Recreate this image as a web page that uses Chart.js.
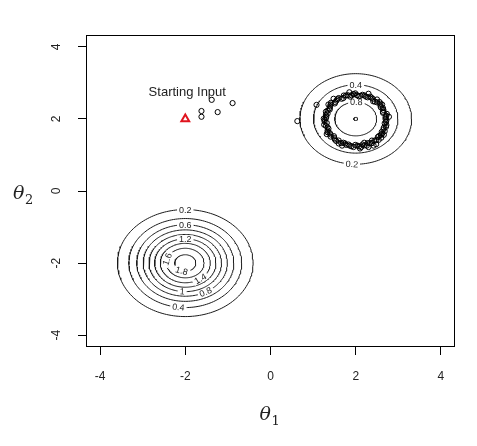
<!DOCTYPE html>
<html>
<head>
<meta charset="utf-8">
<script src="https://cdn.jsdelivr.net/npm/chart.js@4.4.0/dist/chart.umd.min.js"></script>
<style>
    html, body { margin: 0; padding: 0; background: #fff; }
    #wrap { width: 477px; height: 446px; }
</style>
</head>
<body>
<div id="wrap"><canvas id="plot"></canvas></div>
<script>
// Tick values (both axes)
var tickValues = [-4, -2, 0, 2, 4];

// The two bumps of the density: centre, peak, spread
var bumpX = [-2, 2];
var bumpY = [-2, 2];
var bumpPeak = [1.9, 1.002];
var bumpSdX = [0.75, 0.73];
var bumpSdY = [0.70, 0.70];

// Contour levels drawn for each bump
var levelsLow = [0.2, 0.4, 0.6, 0.8, 1, 1.2, 1.4, 1.6, 1.8];
var levelsHigh = [0.2, 0.4, 0.6, 0.8, 1];

// Contour labels: which bump, which level, where on the ring (degrees)
var labelBump = [0, 0, 0, 0, 0, 0, 0, 0, 0, 1, 1, 1];
var labelLevel = [0.2, 0.6, 1.2, 1.6, 1.8, 1.4, 1, 0.8, 0.4, 0.4, 0.8, 0.2];
var labelAngle = [90, 90, 90, 165, 250, 307, 265, 299, 263, 90, 88, 266];

// Sampled points
var sampleX = [-1.62, -1.62, -1.24, -1.38, -0.89, 0.63, 1.08,
    2.72, 2.70, 2.73, 2.64, 2.64, 2.58, 2.56, 2.45, 2.40, 2.34, 2.24, 2.16, 2.07,
    1.99, 1.90, 1.81, 1.72, 1.67, 1.57, 1.52, 1.42, 1.40, 1.39, 1.30, 1.30, 1.30,
    1.27, 1.26, 1.34, 1.34, 1.39, 1.41, 1.50, 1.54, 1.60, 1.71, 1.78, 1.86, 1.95,
    2.04, 2.13, 2.21, 2.28, 2.38, 2.44, 2.54, 2.55, 2.62, 2.68, 2.66, 2.72, 2.71,
    2.30, 2.48, 2.60, 2.10, 2.66, 2.20, 2.42, 1.68, 1.32, 2.50, 2.30, 1.85, 1.48,
    1.25, 2.78, 1.95, 2.62, 1.36,
    2.70, 2.72, 2.64, 2.65, 2.59, 2.58, 2.50, 2.41, 2.37, 2.28, 2.21, 2.11, 2.03,
    1.95, 1.87, 1.77, 1.71, 1.60, 1.55, 1.51, 1.41, 1.39, 1.34, 1.34, 1.31, 1.27,
    1.32, 1.30, 1.36, 1.34, 1.41, 1.49, 1.51, 1.60, 1.66, 1.75, 1.83, 1.90, 1.99,
    2.08, 2.16, 2.26, 2.33, 2.38, 2.48, 2.52, 2.59, 2.61, 2.65, 2.71, 2.68];
var sampleY = [2.22, 2.06, 2.19, 2.53, 2.44, 1.94, 2.39,
    1.96, 2.05, 2.14, 2.20, 2.30, 2.37, 2.47, 2.48, 2.56, 2.62, 2.62, 2.67, 2.63,
    2.71, 2.66, 2.66, 2.65, 2.56, 2.55, 2.47, 2.45, 2.35, 2.26, 2.20, 2.11, 2.02,
    1.93, 1.84, 1.77, 1.68, 1.61, 1.51, 1.47, 1.39, 1.32, 1.34, 1.28, 1.26, 1.22,
    1.26, 1.22, 1.27, 1.33, 1.33, 1.40, 1.42, 1.53, 1.59, 1.66, 1.76, 1.83, 1.92,
    1.22, 1.30, 1.48, 1.18, 1.56, 1.34, 1.26, 1.26, 1.58, 2.54, 2.70, 2.74, 2.56,
    2.01, 2.06, 2.68, 2.40, 2.40,
    2.00, 2.09, 2.17, 2.25, 2.32, 2.42, 2.46, 2.49, 2.59, 2.60, 2.65, 2.64, 2.66,
    2.69, 2.62, 2.65, 2.58, 2.58, 2.51, 2.43, 2.40, 2.30, 2.23, 2.15, 2.06, 1.98,
    1.89, 1.81, 1.73, 1.63, 1.57, 1.52, 1.43, 1.40, 1.33, 1.32, 1.29, 1.24, 1.28,
    1.24, 1.29, 1.26, 1.33, 1.40, 1.41, 1.50, 1.56, 1.64, 1.71, 1.78, 1.88];

// Starting input
var startX = [-2];
var startY = [2];
var startText = "Starting Input";


// Ring of a bump at a level (the bumps are far apart, so each ring is an ellipse)
function ringRadius(b, level) {
    var k = Math.sqrt(2 * Math.log(bumpPeak[b] / level));
    return { rx: bumpSdX[b] * k, ry: bumpSdY[b] * k };
}

function ringPoints(b, level) {
    var r = ringRadius(b, level);
    var pts = [];
    for (var a = 0; a <= 360; a += 2) {
        var t = a * Math.PI / 180;
        pts.push({ x: bumpX[b] + r.rx * Math.cos(t), y: bumpY[b] + r.ry * Math.sin(t) });
    }
    return pts;
}

var datasets = [];

datasets.push({
    label: "start",
    data: startX.map(function (v, i) { return { x: v, y: startY[i] }; }),
    pointStyle: "triangle",
    pointRadius: 4.5,
    borderWidth: 2,
    borderColor: "#e0141e",
    backgroundColor: "rgba(0,0,0,0)"
});

datasets.push({
    label: "samples",
    data: sampleX.map(function (v, i) { return { x: v, y: sampleY[i] }; }),
    pointStyle: "circle",
    pointRadius: 2.6,
    borderWidth: 1,
    borderColor: "#000",
    backgroundColor: "rgba(0,0,0,0)"
});

[levelsLow, levelsHigh].forEach(function (levels, b) {
    levels.forEach(function (level) {
        datasets.push({
            label: "c" + b + "_" + level,
            data: ringPoints(b, level),
            showLine: true,
            pointRadius: 0,
            borderWidth: 1,
            borderColor: "#1a1a1a",
            backgroundColor: "rgba(0,0,0,0)"
        });
    });
});


// Box, contour labels, tick labels on y, axis titles, start text
var plotDecor = {
    id: "plotDecor",
    beforeDatasetDraw: function (chart, args) {
        if (args.index !== 1) return;
        var ctx = chart.ctx;
        var sx = chart.scales.x, sy = chart.scales.y;
        var kx = sx.getPixelForValue(1) - sx.getPixelForValue(0);
        var ky = sy.getPixelForValue(1) - sy.getPixelForValue(0);
        ctx.save();
        ctx.font = "9px 'Liberation Sans', Arial, sans-serif";
        ctx.textAlign = "center";
        ctx.textBaseline = "middle";
        for (var i = 0; i < labelLevel.length; i++) {
            var b = labelBump[i];
            var r = ringRadius(b, labelLevel[i]);
            var t = labelAngle[i] * Math.PI / 180;
            var px = sx.getPixelForValue(bumpX[b] + r.rx * Math.cos(t));
            var py = sy.getPixelForValue(bumpY[b] + r.ry * Math.sin(t));
            var dx = -r.rx * Math.sin(t) * kx;
            var dy = r.ry * Math.cos(t) * ky;
            var rot = Math.atan2(dy, dx);
            if (rot > Math.PI / 2) rot -= Math.PI;
            if (rot < -Math.PI / 2) rot += Math.PI;
            var txt = String(labelLevel[i]);
            var w = ctx.measureText(txt).width;
            ctx.save();
            ctx.translate(px, py);
            ctx.rotate(rot);
            ctx.fillStyle = "#fff";
            ctx.fillRect(-w / 2 - 2, -3.5, w + 4, 7);
            ctx.fillStyle = "#222";
            ctx.fillText(txt, 0, 0.5);
            ctx.restore();
        }
        ctx.restore();
    },
    afterDraw: function (chart) {
        var ctx = chart.ctx;
        var a = chart.chartArea;
        var sx = chart.scales.x, sy = chart.scales.y;
        ctx.save();
        ctx.strokeStyle = "#000";
        ctx.lineWidth = 1;
        ctx.strokeRect(a.left + 0.5, a.top + 0.5, a.right - a.left - 1, a.bottom - a.top - 1);

        // y tick labels, turned like R does
        ctx.fillStyle = "#222";
        ctx.font = "12px 'Liberation Sans', Arial, sans-serif";
        ctx.textAlign = "center";
        ctx.textBaseline = "middle";
        tickValues.forEach(function (v) {
            ctx.save();
            ctx.translate(a.left - 29, sy.getPixelForValue(v));
            ctx.rotate(-Math.PI / 2);
            ctx.fillText(String(v), 0, 0);
            ctx.restore();
        });

        // start text
        ctx.font = "13px 'Liberation Sans', Arial, sans-serif";
        ctx.fillText(startText, sx.getPixelForValue(startX[0]) + 2, sy.getPixelForValue(startY[0] + 0.75));

        // axis titles
        ctx.textAlign = "left";
        ctx.textBaseline = "alphabetic";
        var cx = (a.left + a.right) / 2;
        ctx.font = "italic 19px 'DejaVu Serif', serif";
        ctx.fillText("\u03b8", cx - 11, a.bottom + 73);
        ctx.fillText("\u03b8", 13, (a.top + a.bottom) / 2 + 8);
        ctx.font = "13px 'DejaVu Serif', serif";
        ctx.fillText("1", cx + 1, a.bottom + 78);
        ctx.fillText("2", 25, (a.top + a.bottom) / 2 + 13);
        ctx.restore();
    }
};

Chart.defaults.font.family = "'Liberation Sans', Arial, sans-serif";
Chart.defaults.font.size = 12;
Chart.defaults.color = "#222";

var ctx = document.getElementById("plot").getContext("2d");
var myChart = new Chart(ctx, {
    type: "scatter",
    data: { datasets: datasets },
    options: {
        responsive: true,
        maintainAspectRatio: false,
        animation: false,
        events: [],
        layout: { padding: { left: 0, top: 35, right: 22, bottom: 0 } },
        plugins: {
            legend: { display: false },
            tooltip: { enabled: false }
        },
        scales: {
            x: {
                type: "linear",
                min: -4.33,
                max: 4.33,
                afterBuildTicks: function (scale) {
                    scale.ticks = tickValues.map(function (v) { return { value: v }; });
                },
                afterFit: function (scale) { scale.height = 99; },
                grid: { drawOnChartArea: false, drawTicks: true, tickLength: 8, color: "#000" },
                border: { display: false },
                ticks: { padding: 14, maxRotation: 0, font: { size: 12 } }
            },
            y: {
                type: "linear",
                min: -4.33,
                max: 4.33,
                afterBuildTicks: function (scale) {
                    scale.ticks = tickValues.map(function (v) { return { value: v }; });
                },
                afterFit: function (scale) { scale.width = 86; },
                grid: { drawOnChartArea: false, drawTicks: true, tickLength: 8, color: "#000" },
                border: { display: false },
                ticks: { display: false }
            }
        }
    },
    plugins: [plotDecor]
});
</script>
</body>
</html>
